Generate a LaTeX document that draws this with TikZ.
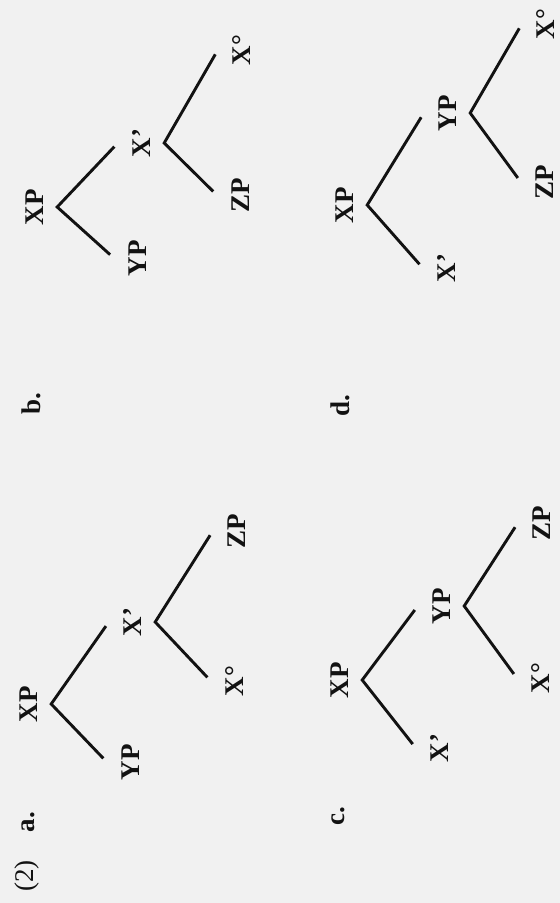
\documentclass[tikz,border=0pt]{standalone}
\usepackage{fontspec}
\setmainfont{Liberation Serif}
\usepackage{xcolor}
\usetikzlibrary{positioning}

\definecolor{paper}{RGB}{241,241,241}
\definecolor{ink}{RGB}{18,18,18}

\begin{document}
\begin{tikzpicture}[
    x=1pt, y=-1pt,
    cat node/.style={rotate=90,inner sep=14pt,text height=18pt,text depth=0pt,
        font=\fontsize{27}{30}\selectfont\bfseries,text=ink},
    item node/.style={rotate=90,inner sep=0pt,font=\fontsize{27}{30}\selectfont\bfseries,text=ink},
    num node/.style={rotate=90,inner sep=0pt,font=\fontsize{27}{30}\selectfont,text=ink},
    branch/.style={draw=ink,line width=2.9pt,shorten <=5pt,shorten >=5pt}
]
\fill[paper] (0,0) rectangle (560,903);
\useasboundingbox (0,0) rectangle (560,903);

\node[num node] (num) at (27,876) {(2)};
\node[item node] (itemA) at (28,822) {a.};
\node[item node] (itemB) at (31,404) {b.};
\node[item node] (itemC) at (338,816) {c.};
\node[item node] (itemD) at (340,406) {d.};

% a.
\node[cat node] (xpA) at (28,704) {XP};
\node[cat node] (ypA) at (130,762) {YP};
\node[cat node] (xbA) at (132,622) {X’};
\node[cat node] (xzA) at (234,681) {X°};
\node[cat node] (zpA) at (236,531) {ZP};
\draw[branch] (ypA.north) -- (xpA.south) -- (xbA.north);
\draw[branch] (xzA.north) -- (xbA.south) -- (zpA.north);

% b.
\node[cat node] (xpB) at (34,207) {XP};
\node[cat node] (ypB) at (137,258) {YP};
\node[cat node] (xbB) at (141,143) {X’};
\node[cat node] (zpB) at (240,195) {ZP};
\node[cat node] (xzB) at (241,50) {X°};
\draw[branch] (ypB.north) -- (xpB.south) -- (xbB.north);
\draw[branch] (zpB.north) -- (xbB.south) -- (xzB.north);

% c.
\node[cat node] (xpC) at (339,680) {XP};
\node[cat node] (xbC) at (439,748) {X’};
\node[cat node] (ypC) at (441,606) {YP};
\node[cat node] (xzC) at (540,678) {X°};
\node[cat node] (zpC) at (541,523) {ZP};
\draw[branch] (xbC.north) -- (xpC.south) -- (ypC.north);
\draw[branch] (xzC.north) -- (ypC.south) -- (zpC.north);

% d.
\node[cat node] (xpD) at (344,205) {XP};
\node[cat node] (xbD) at (446,268) {X’};
\node[cat node] (ypD) at (447,113) {YP};
\node[cat node] (zpD) at (544,182) {ZP};
\node[cat node] (xzD) at (545,24) {X°};
\draw[branch] (xbD.north) -- (xpD.south) -- (ypD.north);
\draw[branch] (zpD.north) -- (ypD.south) -- (xzD.north);

\end{tikzpicture}
\end{document}
